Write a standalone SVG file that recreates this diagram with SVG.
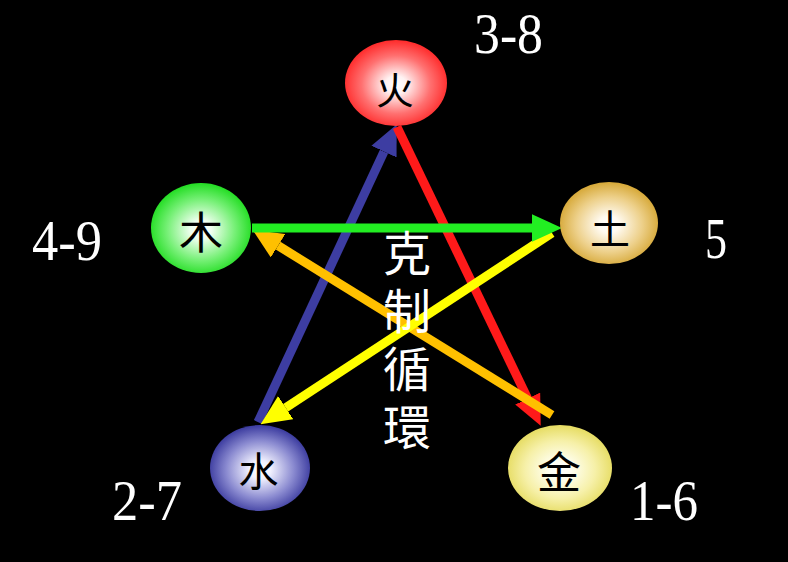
<svg xmlns="http://www.w3.org/2000/svg" width="788" height="562" viewBox="0 0 788 562">
<style>
.num{font-family:"Liberation Serif","Times New Roman",serif;font-size:56px;fill:#ffffff}
.nodech{font-family:"Noto Sans CJK TC","Noto Sans CJK SC",sans-serif;fill:#000000;text-anchor:middle;dominant-baseline:central}
.vt{font-family:"Noto Sans CJK TC","Noto Sans CJK SC",sans-serif;font-size:48px;fill:#ffffff;writing-mode:vertical-rl;letter-spacing:10px}
.conn{stroke-width:9;fill:none;stroke-linecap:butt}
</style>
<defs>
<radialGradient id="gFire" cx="50%" cy="52%" r="52%">
<stop offset="0" stop-color="#ffffff"/>
<stop offset="0.2" stop-color="#fff2f2"/>
<stop offset="0.65" stop-color="#ff7070"/>
<stop offset="1" stop-color="#ff2a2a"/>
</radialGradient>
<radialGradient id="gWood" cx="50%" cy="52%" r="52%">
<stop offset="0" stop-color="#ffffff"/>
<stop offset="0.2" stop-color="#f0fff0"/>
<stop offset="0.65" stop-color="#77f077"/>
<stop offset="1" stop-color="#22dd22"/>
</radialGradient>
<radialGradient id="gEarth" cx="50%" cy="52%" r="52%">
<stop offset="0" stop-color="#ffffff"/>
<stop offset="0.2" stop-color="#fffaf0"/>
<stop offset="0.65" stop-color="#edd08a"/>
<stop offset="1" stop-color="#d6a837"/>
</radialGradient>
<radialGradient id="gWater" cx="50%" cy="52%" r="52%">
<stop offset="0" stop-color="#ffffff"/>
<stop offset="0.2" stop-color="#f2f2ff"/>
<stop offset="0.65" stop-color="#8a8ad0"/>
<stop offset="1" stop-color="#3a3a9e"/>
</radialGradient>
<radialGradient id="gMetal" cx="50%" cy="52%" r="52%">
<stop offset="0" stop-color="#ffffff"/>
<stop offset="0.2" stop-color="#fffff2"/>
<stop offset="0.65" stop-color="#f6f0a8"/>
<stop offset="1" stop-color="#e6dc62"/>
</radialGradient>
<marker id="aGreen" markerUnits="userSpaceOnUse" markerWidth="30" markerHeight="28" refX="0" refY="12" orient="auto" viewBox="0 0 26 24"><path d="M0,0 L26,12 L0,24 Z" fill="#22ee22"/></marker>
<marker id="aBlue" markerUnits="userSpaceOnUse" markerWidth="30" markerHeight="28" refX="0" refY="12" orient="auto" viewBox="0 0 26 24"><path d="M0,0 L26,12 L0,24 Z" fill="#3d3da2"/></marker>
<marker id="aRed" markerUnits="userSpaceOnUse" markerWidth="30" markerHeight="28" refX="0" refY="12" orient="auto" viewBox="0 0 26 24"><path d="M0,0 L26,12 L0,24 Z" fill="#ff1a1a"/></marker>
<marker id="aOrange" markerUnits="userSpaceOnUse" markerWidth="30" markerHeight="28" refX="0" refY="12" orient="auto" viewBox="0 0 26 24"><path d="M0,0 L26,12 L0,24 Z" fill="#ffc000"/></marker>
<marker id="aYellow" markerUnits="userSpaceOnUse" markerWidth="30" markerHeight="28" refX="0" refY="12" orient="auto" viewBox="0 0 26 24"><path d="M0,0 L26,12 L0,24 Z" fill="#ffff00"/></marker>
</defs>
<rect x="0" y="0" width="788" height="562" fill="#000000"/>

<g id="connectors">
<line class="conn" x1="258" y1="422" x2="384" y2="151.6" stroke="#3d3da2" marker-end="url(#aBlue)"/>
<line class="conn" x1="397" y1="127" x2="527.7" y2="398.6" stroke="#ff1a1a" marker-end="url(#aRed)"/>
<line class="conn" x1="552" y1="415" x2="278.1" y2="245.7" stroke="#ffc000" marker-end="url(#aOrange)"/>
<line class="conn" x1="552" y1="233" x2="285.7" y2="407.7" stroke="#ffff00" marker-end="url(#aYellow)"/>
<line class="conn" x1="252" y1="228" x2="532" y2="228" stroke="#22ee22" marker-end="url(#aGreen)"/>
</g>

<g id="node-fire">
<ellipse cx="396" cy="83" rx="51" ry="43" fill="url(#gFire)"/>
<text class="nodech" x="395" y="87.5" font-size="38">火</text>
</g>
<g id="node-wood">
<ellipse cx="201" cy="228" rx="50" ry="45" fill="url(#gWood)"/>
<text class="nodech" x="201" y="230" font-size="44">木</text>
</g>
<g id="node-earth">
<ellipse cx="609" cy="223" rx="49" ry="41" fill="url(#gEarth)"/>
<text class="nodech" x="610" y="226.5" font-size="40">土</text>
</g>
<g id="node-water">
<ellipse cx="260" cy="468" rx="50" ry="43" fill="url(#gWater)"/>
<text class="nodech" x="258.5" y="468.5" font-size="40">水</text>
</g>
<g id="node-metal">
<ellipse cx="560" cy="468" rx="52" ry="43" fill="url(#gMetal)"/>
<text class="nodech" x="559" y="470" font-size="44">金</text>
</g>

<g id="labels">
<text class="num" x="474" y="53" textLength="69" lengthAdjust="spacingAndGlyphs">3-8</text>
<text class="num" x="32" y="260" textLength="70" lengthAdjust="spacingAndGlyphs">4-9</text>
<text class="num" x="705" y="258" textLength="22" lengthAdjust="spacingAndGlyphs">5</text>
<text class="num" x="112" y="520" textLength="70" lengthAdjust="spacingAndGlyphs">2-7</text>
<text class="num" x="630" y="520" textLength="68" lengthAdjust="spacingAndGlyphs">1-6</text>
</g>

<g id="title">
<text class="vt" x="407" y="229">克制循環</text>
</g>
</svg>
